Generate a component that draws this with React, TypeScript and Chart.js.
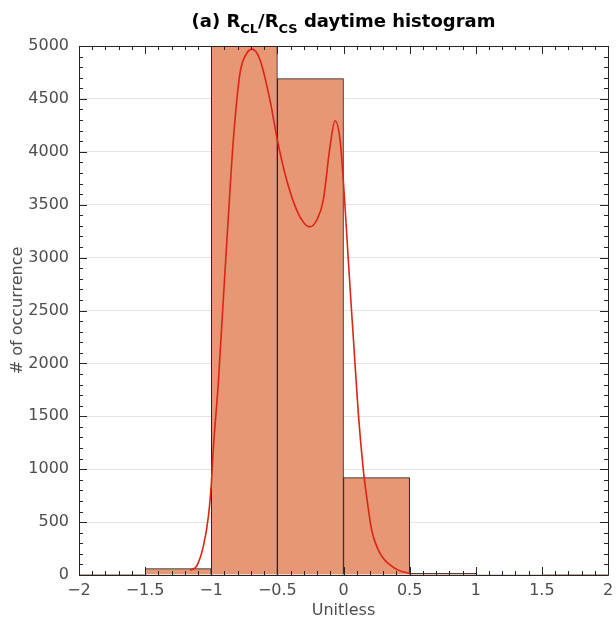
import React, { useEffect, useRef } from "react";
import { Chart, registerables } from "chart.js";

Chart.register(...registerables);

const binCenters = [-1.75, -1.25, -0.75, -0.25, 0.25, 0.75, 1.25, 1.75];
const binCounts = [4, 60, 4998, 4692, 920, 15, 5, 1];

const curveX = [-1.16, -1.11, -1.06, -1.022, -1.0, -0.985, -0.947, -0.909, -0.87, -0.833, -0.783, -0.732, -0.69, -0.631, -0.556, -0.5, -0.43, -0.354, -0.3, -0.253, -0.2, -0.153, -0.102, -0.064, -0.026, 0.0, 0.024, 0.049, 0.074, 0.112, 0.15, 0.175, 0.213, 0.276, 0.377, 0.45, 0.503];
const curveY = [45, 85, 270, 550, 850, 1180, 1810, 2600, 3400, 4111, 4741, 4930, 4970, 4867, 4489, 4111, 3733, 3449, 3330, 3291, 3360, 3544, 4048, 4293, 4111, 3705, 3229, 2724, 2250, 1528, 992, 740, 425, 205, 73, 30, 14];

const xTicks = [-2, -1.5, -1, -0.5, 0, 0.5, 1, 1.5, 2];
const yTicks = [0, 500, 1000, 1500, 2000, 2500, 3000, 3500, 4000, 4500, 5000];

const FONT = "'DejaVu Sans', sans-serif";
const TEXT = "rgb(77,77,77)";

const framePlugin = {
  id: "matlabFrame",
  afterDatasetsDraw(chart: any) {
    const ctx = chart.ctx;
    const a = chart.chartArea;
    const xs = chart.scales.x;
    const ys = chart.scales.y;
    ctx.save();
    ctx.strokeStyle = "rgb(38,38,38)";
    ctx.lineWidth = 1;
    ctx.beginPath();
    ctx.rect(Math.round(a.left) + 0.5, Math.round(a.top) + 0.5, Math.round(a.right - a.left), Math.round(a.bottom - a.top));
    ctx.stroke();
    ctx.beginPath();
    for (let i = 0; i <= 40; i++) {
      const v = -2 + i * 0.1;
      const px = Math.round(xs.getPixelForValue(v)) + 0.5;
      const len = i % 5 === 0 ? 8 : 4;
      ctx.moveTo(px, a.bottom);
      ctx.lineTo(px, a.bottom - len);
      ctx.moveTo(px, a.top);
      ctx.lineTo(px, a.top + len);
    }
    for (let i = 0; i <= 50; i++) {
      const v = i * 100;
      const py = Math.round(ys.getPixelForValue(v)) + 0.5;
      const len = i % 5 === 0 ? 8 : 4;
      ctx.moveTo(a.left, py);
      ctx.lineTo(a.left + len, py);
      ctx.moveTo(a.right, py);
      ctx.lineTo(a.right - len, py);
    }
    ctx.stroke();
    ctx.restore();
  },
  afterDraw(chart: any) {
    const ctx = chart.ctx;
    const a = chart.chartArea;
    ctx.save();
    const cx = (a.left + a.right) / 2;
    const big = "bold 18px " + FONT;
    const small = "bold 13px " + FONT;
    const parts: [string, boolean][] = [
      ["(a) R", false],
      ["CL", true],
      ["/R", false],
      ["CS", true],
      [" daytime histogram", false],
    ];
    let total = 0;
    for (const [t, sub] of parts) {
      ctx.font = sub ? small : big;
      total += ctx.measureText(t).width;
    }
    let x = cx - total / 2;
    const base = 27;
    ctx.fillStyle = "rgb(0,0,0)";
    ctx.textBaseline = "alphabetic";
    ctx.textAlign = "left";
    for (const [t, sub] of parts) {
      ctx.font = sub ? small : big;
      ctx.fillText(t, x, sub ? base + 6 : base);
      x += ctx.measureText(t).width;
    }
    ctx.fillStyle = TEXT;
    ctx.font = "16px " + FONT;
    ctx.textAlign = "center";
    ctx.textBaseline = "middle";
    ctx.fillText("Unitless", cx, 611);
    ctx.translate(18, (a.top + a.bottom) / 2);
    ctx.rotate(-Math.PI / 2);
    ctx.fillText("# of occurrence", 0, 0);
    ctx.restore();
  },
};

export default function App() {
  const ref = useRef<HTMLCanvasElement | null>(null);
  useEffect(() => {
    document.body.style.margin = "0";
    const canvas = ref.current!;
    const chart = new Chart(canvas, {
      type: "bar",
      data: {
        datasets: [
          {
            type: "line",
            data: curveX.map((x, i) => ({ x, y: curveY[i] })),
            borderColor: "rgb(222,36,20)",
            borderWidth: 1.6,
            pointRadius: 0,
            fill: false,
            cubicInterpolationMode: "monotone",
            order: 0,
          } as any,
          {
            type: "bar",
            data: binCenters.map((x, i) => ({ x, y: binCounts[i] })),
            backgroundColor: "rgb(231,151,116)",
            borderColor: "rgb(30,30,30)",
            borderWidth: 1,
            barPercentage: 1,
            categoryPercentage: 1,
            order: 1,
          } as any,
        ],
      },
      options: {
        animation: false,
        responsive: false,
        maintainAspectRatio: false,
        layout: { padding: { top: 46, right: 8, left: 0, bottom: 0 } },
        plugins: { legend: { display: false }, tooltip: { enabled: false }, title: { display: false } },
        scales: {
          x: {
            type: "linear",
            min: -2,
            max: 2,
            offset: false,
            afterBuildTicks: (s: any) => {
              s.ticks = xTicks.map((v) => ({ value: v }));
            },
            afterFit: (s: any) => {
              s.height = 51;
              s.paddingLeft = 0;
              s.paddingRight = 0;
            },
            grid: { display: false, drawTicks: false },
            border: { display: false },
            ticks: {
              padding: 6,
              color: TEXT,
              font: { family: FONT, size: 16 },
              maxRotation: 0,
              autoSkip: false,
              callback: (v: any) => String(v).replace("-", "\u2212"),
            },
          },
          y: {
            type: "linear",
            min: 0,
            max: 5000,
            afterBuildTicks: (s: any) => {
              s.ticks = yTicks.map((v) => ({ value: v }));
            },
            afterFit: (s: any) => {
              s.width = 79;
              s.paddingTop = 0;
              s.paddingBottom = 0;
            },
            grid: { color: "rgb(228,228,228)", lineWidth: 1, drawTicks: false },
            border: { display: false },
            ticks: {
              padding: 10,
              color: TEXT,
              font: { family: FONT, size: 16 },
              autoSkip: false,
              callback: (v: any) => String(v),
            },
          },
        },
      },
      plugins: [framePlugin],
    });
    return () => chart.destroy();
  }, []);
  return (
    <div style={{ position: "absolute", left: 0, top: 0, width: 616, height: 626, background: "#fff" }}>
      <canvas ref={ref} width={616} height={626} style={{ width: 616, height: 626, display: "block" }} />
    </div>
  );
}
